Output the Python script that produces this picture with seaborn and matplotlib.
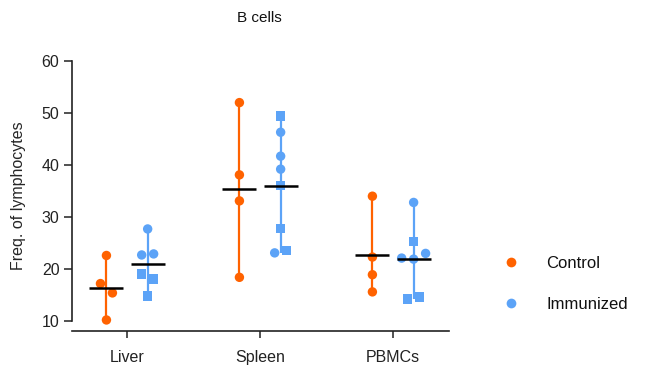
import matplotlib
matplotlib.use("Agg")
import matplotlib.pyplot as plt
import numpy as np
import pandas as pd
import seaborn as sns
from matplotlib.lines import Line2D

# ---- data -------------------------------------------------------------
tissues = ["Liver", "Spleen", "PBMCs"]
groups = ["Control", "Immunized"]

control_liver = [22.6, 17.2, 15.4, 10.2]
control_spleen = [52.0, 38.1, 33.1, 18.4]
control_pbmc = [34.0, 22.3, 18.9, 15.6]

immunized_liver = [27.7, 22.7, 22.9, 19.0, 18.1, 14.8]
immunized_spleen = [49.4, 46.3, 41.7, 39.2, 36.1, 27.8, 23.1, 23.6]
immunized_pbmc = [32.8, 25.3, 22.1, 21.9, 23.0, 14.2, 14.6]

# cohort of each immunized animal ("A" = circle, "B" = square)
immunized_liver_cohort = ["A", "A", "A", "B", "B", "B"]
immunized_spleen_cohort = ["B", "A", "A", "A", "B", "B", "A", "B"]
immunized_pbmc_cohort = ["A", "B", "A", "A", "A", "B", "B"]

yticks = [10, 20, 30, 40, 50, 60]

# ---- style ------------------------------------------------------------
palette = {"Control": "#FF6200", "Immunized": "#5CA3F7"}
markers = {"A": "o", "B": "s"}
group_shift = {"Control": -0.155, "Immunized": 0.155}

sns.set_theme(style="ticks")
plt.rcParams["font.family"] = ["Liberation Sans", "DejaVu Sans"]
plt.rcParams["text.color"] = "#111111"


def row_offsets(values, tol=1.95, step=0.09):
    """Spread values that would overlap into a centred horizontal row."""
    order = sorted(range(len(values)), key=lambda i: values[i])
    clusters = []
    for i in order:
        if clusters and values[i] - values[clusters[-1][0]] < tol:
            clusters[-1].append(i)
        else:
            clusters.append([i])
    off = [0.0] * len(values)
    for c in clusters:
        c.sort()
        n = len(c)
        for k, i in enumerate(c):
            off[i] = (k - (n - 1) / 2) * step
    return off


series = {
    ("Liver", "Control"): (control_liver, ["A"] * len(control_liver)),
    ("Spleen", "Control"): (control_spleen, ["A"] * len(control_spleen)),
    ("PBMCs", "Control"): (control_pbmc, ["A"] * len(control_pbmc)),
    ("Liver", "Immunized"): (immunized_liver, immunized_liver_cohort),
    ("Spleen", "Immunized"): (immunized_spleen, immunized_spleen_cohort),
    ("PBMCs", "Immunized"): (immunized_pbmc, immunized_pbmc_cohort),
}

rows = []
for (tissue, group), (vals, cohort) in series.items():
    base = tissues.index(tissue) + group_shift[group]
    for v, c, o in zip(vals, cohort, row_offsets(vals)):
        rows.append(dict(tissue=tissue, group=group, cohort=c, value=v,
                         center=base, x=base + o))
df = pd.DataFrame(rows)

# ---- figure -----------------------------------------------------------
W, H = 661, 367
fig = plt.figure(figsize=(W / 100, H / 100), dpi=100)
ax = fig.add_axes([72 / W, 1 - 331 / H, (449 - 72) / W, (331 - 61) / H])

# range bars (min to max)
stats = df.groupby(["tissue", "group"]).agg(center=("center", "first"),
                                             lo=("value", "min"),
                                             hi=("value", "max"),
                                             mean=("value", "mean")).reset_index()
for _, r in stats.iterrows():
    ax.vlines(r["center"], r["lo"], r["hi"], color=palette[r["group"]],
              lw=1.6, zorder=1)

sns.scatterplot(data=df, x="x", y="value", hue="group", style="cohort",
                palette=palette, markers=markers, s=46, linewidth=0,
                legend=False, ax=ax, zorder=3)

# mean lines
for _, r in stats.iterrows():
    ax.hlines(r["mean"], r["center"] - 0.128, r["center"] + 0.128,
              color="black", lw=1.8, zorder=4)

ax.set_xlim(-0.414, 2.421)
ax.set_ylim(60 - 270 / 5.2, 60)
ax.set_xticks(range(len(tissues)))
ax.set_xticklabels(tissues)
ax.set_yticks(yticks)
ax.set_xlabel("")
ax.set_ylabel("Freq. of lymphocytes", fontsize=11.5, labelpad=11)
ax.tick_params(axis="both", labelsize=11.5, colors="#222222", width=1.1)
ax.tick_params(axis="y", length=6, pad=3)
ax.tick_params(axis="x", length=5, pad=9)
for s in ["left", "bottom"]:
    ax.spines[s].set_linewidth(1.2)
    ax.spines[s].set_color("#222222")
sns.despine(ax=ax)
ax.spines["left"].set_bounds(10, 60)

fig.text(259 / W, 1 - 18 / H, "B cells", ha="center", va="center", fontsize=11)

handles = [Line2D([], [], marker="o", ls="", color=palette[g], markersize=7,
                  markeredgewidth=0) for g in groups]
fig.legend(handles, groups, loc="upper left",
           bbox_to_anchor=(503 / W, 1 - 256 / H), frameon=False,
           fontsize=12, handlelength=1.0, handletextpad=1.6,
           labelspacing=1.55, borderpad=0, borderaxespad=0)

fig.savefig("out.png", dpi=100)
